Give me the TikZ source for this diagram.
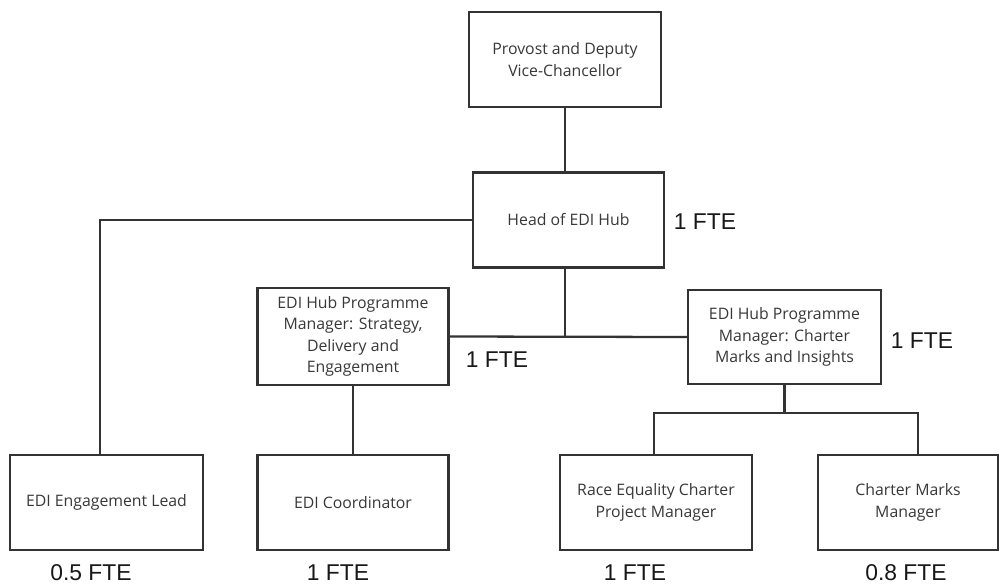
\documentclass[tikz,border=0pt]{standalone}
\usepackage{fontspec}
\setmainfont{Open Sans}
\newfontfamily\ftefont{Liberation Sans}
\usetikzlibrary{calc}
\definecolor{edge}{HTML}{333333}
\definecolor{roletext}{HTML}{383838}
\definecolor{ftetext}{HTML}{181818}
\tikzset{
  role/.style={draw=edge, line width=1.3pt, fill=white, text=roletext,
    font=\fontsize{9}{12.2}\selectfont, align=center, inner sep=2pt,
    minimum width=3.84cm, minimum height=1.9cm},
  link/.style={draw=edge, line width=1.3pt},
  fte/.style={text=ftetext, font=\ftefont\fontsize{13}{15}\selectfont, inner sep=0pt}
}
\begin{document}
\begin{tikzpicture}[x=0.02cm, y=-0.02cm]
  \useasboundingbox (0,0) rectangle (1000,585);

  % top of the chart
  \node[role] (prov) at (565,59.5) {Provost and Deputy\\Vice-Chancellor};
  \node[role, minimum width=3.82cm] (head) at (568.5,220) {Head of EDI Hub};
  \coordinate (spine) at (565,0);

  % programme managers
  \node[role, minimum width=3.82cm, minimum height=1.94cm] (pmsd) at (353,336.5)
    {EDI Hub Programme\\Manager: Strategy,\\Delivery and\\Engagement};
  \node[role, minimum width=3.86cm, minimum height=1.88cm] (pmci) at (784.5,337)
    {EDI Hub Programme\\Manager: Charter\\Marks and Insights};

  % bottom row
  \node[role, minimum width=3.86cm] (lead) at (106.5,502.5) {EDI Engagement Lead};
  \node[role, minimum width=3.82cm] (coord) at (353,502.5) {EDI Coordinator};
  \node[role] (race) at (656,502.5) {Race Equality Charter\\Project Manager};
  \node[role, minimum width=3.6cm] (cmm) at (908,502.5) {Charter Marks\\Manager};

  \coordinate (ltap) at (100,455);
  \coordinate (rtap) at (654,455);
  \coordinate (ctap) at (918,455);

  \draw[link] (prov.south) -- (spine |- head.north);
  \draw[link] (spine |- head.south) -- (spine |- pmsd.east);
  \draw[link] (pmsd.east) -- (pmci.west);
  \draw[link] (head.west) -| (ltap);
  \draw[link] (pmsd.south) -- (coord.north);
  \draw[link] (pmci.south) -- ++(0,28) coordinate (bar);
  \draw[link] (rtap) |- (bar) -| (ctap);

  % FTE figures
  \node[fte] (fhead) at (705,222) {1 FTE};
  \node[fte] (fpmsd) at (497,360) {1 FTE};
  \node[fte] (fpmci) at (922,341) {1 FTE};
  \node[fte] (flead) at (91,573) {0.5 FTE};
  \node[fte] (fcoord) at (338,573) {1 FTE};
  \node[fte] (frace) at (635,573) {1 FTE};
  \node[fte] (fcmm) at (906,573) {0.8 FTE};
\end{tikzpicture}
\end{document}
